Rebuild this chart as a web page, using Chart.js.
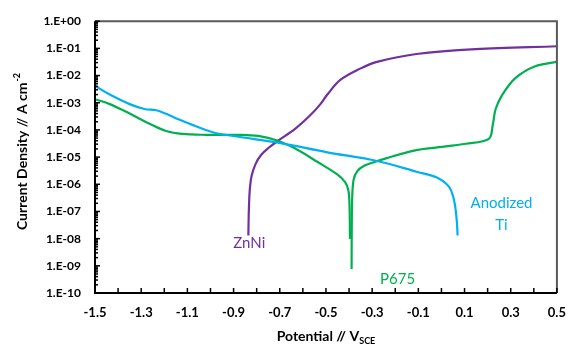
<!DOCTYPE html>
<html><head><meta charset="utf-8">
<script src="https://cdn.jsdelivr.net/npm/chart.js@4"></script>
<style>html,body{margin:0;padding:0;background:#fff}#c{display:block}</style>
</head><body>
<canvas id="c" width="578" height="349"></canvas>
<script>
// ---- data ----
const xTickLabels = ['-1.5','-1.3','-1.1','-0.9','-0.7','-0.5','-0.3','-0.1','0.1','0.3','0.5'];
const yTickLabels = ['1.E-10','1.E-09','1.E-08','1.E-07','1.E-06','1.E-05','1.E-04','1.E-03','1.E-02','1.E-01','1.E+00'];

const znniV = [-0.836,-0.834,-0.830,-0.822,-0.805,-0.781,-0.745,-0.708,-0.635,-0.566,-0.524,-0.494,-0.438,-0.352,-0.279,-0.108,0.149,0.5];
const znniI = [1.3e-8,1.0e-7,6.0e-7,2.0e-6,5.5e-6,1.2e-5,2.3e-5,4.0e-5,1.07e-4,3.6e-4,8.9e-4,2.0e-3,6.9e-3,1.8e-2,3.2e-2,6.2e-2,9.4e-2,1.2e-1];

const p675CathV = [-1.5,-1.436,-1.35,-1.264,-1.192,-1.123,-1.02,-0.879,-0.793,-0.708,-0.635,-0.536,-0.451,-0.417,-0.403,-0.398,-0.396];
const p675CathI = [1.35e-3,8.9e-4,4.0e-4,1.7e-4,9.1e-5,7.1e-5,6.6e-5,6.6e-5,6.0e-5,4.0e-5,2.1e-5,6.6e-6,2.3e-6,1.2e-6,6.0e-7,1.5e-7,9.8e-9];
const p675AnodV = [-0.389,-0.388,-0.386,-0.380,-0.365,-0.335,-0.290,-0.237,-0.108,-0.035,0.106,0.205,0.222,0.235,0.264,0.32,0.406,0.5];
const p675AnodI = [7.7e-10,5.0e-8,4.0e-7,1.5e-6,3.0e-6,4.8e-6,6.6e-6,9.2e-6,1.8e-5,2.2e-5,3.1e-5,4.7e-5,1.5e-4,6.0e-4,2.0e-3,8.1e-3,2.2e-2,3.2e-2];

const tiV = [-1.5,-1.436,-1.35,-1.286,-1.234,-1.192,-1.136,-1.063,-0.978,-0.879,-0.708,-0.494,-0.279,-0.108,-0.022,0.033,0.055,0.066,0.070];
const tiI = [4.2e-3,2.0e-3,8.9e-4,5.9e-4,5.3e-4,3.9e-4,2.4e-4,1.36e-4,7.7e-5,5.6e-5,3.4e-5,1.5e-5,7.2e-6,2.9e-6,1.8e-6,8.0e-7,2.5e-7,5.0e-8,1.3e-8];

const seriesLabels = [
  {text:'ZnNi', x:-0.832, y:10**-8.16, color:'#7030A0'},
  {text:'P675', x:-0.19, y:10**-9.5, color:'#00B050'},
  {text:'Anodized', x:0.26, y:10**-6.70, color:'#00B0F0'},
  {text:'Ti', x:0.26, y:10**-7.52, color:'#00B0F0'}
];

const pts = (xs, ys) => xs.map((v,i)=>({x:v, y:ys[i]}));

const PURPLE='#7030A0', GREEN='#00B050', BLUE='#00B0F0';
const lineDs = (data,color)=>({data, borderColor:color, borderWidth:2.2, pointRadius:0, fill:false, tension:0.35});

function seg(ctx,x1,y1,x2,y2){ctx.beginPath();ctx.moveTo(x1,y1);ctx.lineTo(x2,y2);ctx.stroke();}

const framePlugin = {
  id:'frame',
  afterDraw(chart){
    const {ctx, chartArea:a, scales:{x,y}} = chart;
    ctx.save();
    ctx.strokeStyle='#595959'; ctx.lineWidth=2;
    ctx.beginPath(); ctx.moveTo(a.left,a.top); ctx.lineTo(a.right,a.top); ctx.lineTo(a.right,a.bottom); ctx.stroke();
    ctx.strokeStyle='#000'; ctx.lineWidth=2;
    ctx.beginPath(); ctx.moveTo(a.left,a.top); ctx.lineTo(a.left,a.bottom); ctx.lineTo(a.right,a.bottom); ctx.stroke();
    ctx.lineWidth=1.5;
    for(let e=-10;e<=0;e++){
      const py=y.getPixelForValue(10**e);
      seg(ctx,a.left,py,a.left+5,py);
      if(e<0) for(let m=2;m<=9;m++){const pm=y.getPixelForValue(m*10**e); seg(ctx,a.left,pm,a.left+3,pm);}
    }
    for(let i=0;i<=20;i++){const px=x.getPixelForValue(-1.5+i*0.1); seg(ctx,px,a.bottom,px,a.bottom-5);}
    // series labels
    ctx.font='15px Lato'; ctx.textAlign='center'; ctx.textBaseline='middle';
    seriesLabels.forEach(l=>{ctx.fillStyle=l.color; ctx.fillText(l.text, x.getPixelForValue(l.x), y.getPixelForValue(l.y));});
    // axis titles
    ctx.fillStyle='#000';
    const f1='bold 14px Lato', f2='bold 9px Lato';
    ctx.font=f1; const w1=ctx.measureText('Potential // V').width;
    ctx.font=f2; const w2=ctx.measureText('SCE').width;
    const cx=(a.left+a.right)/2, tx=cx-(w1+w2)/2, ty=336;
    ctx.textAlign='left'; ctx.textBaseline='alphabetic';
    ctx.font=f1; ctx.fillText('Potential // V', tx, ty+5);
    ctx.font=f2; ctx.fillText('SCE', tx+w1, ty+8);
    ctx.translate(22,152); ctx.rotate(-Math.PI/2);
    ctx.font=f1; const w3=ctx.measureText('Current Density // A cm').width;
    ctx.font=f2; const w4=ctx.measureText('-2').width;
    const sx=-(w3+w4)/2;
    ctx.font=f1; ctx.fillText('Current Density // A cm', sx, 5);
    ctx.font=f2; ctx.fillText('-2', sx+w3+1, -2);
    ctx.restore();
  }
};

new Chart(document.getElementById('c'), {
  type:'line',
  data:{datasets:[
    lineDs(pts(tiV,tiI), BLUE),
    lineDs(pts(p675CathV,p675CathI), GREEN),
    lineDs(pts(p675AnodV,p675AnodI), GREEN),
    lineDs(pts(znniV,znniI), PURPLE)
  ]},
  options:{
    responsive:false, animation:false, devicePixelRatio:1,
    layout:{padding:{left:0,right:16,top:11,bottom:0}},
    plugins:{legend:{display:false}, tooltip:{enabled:false}},
    scales:{
      x:{type:'linear', min:-1.5, max:0.5,
        afterFit(s){s.height=56;},
        afterBuildTicks(s){s.ticks=[];for(let i=0;i<=10;i++)s.ticks.push({value:-1.5+i*0.2});},
        ticks:{autoSkip:false, maxRotation:0, padding:12, color:'#000', font:{family:'Lato',size:13,weight:'bold'},
          callback:(v,i)=>xTickLabels[i]},
        grid:{display:false, drawTicks:false}, border:{display:false}},
      y:{type:'logarithmic', min:1e-10, max:1,
        afterFit(s){s.width=95;},
        afterBuildTicks(s){s.ticks=[];for(let e=-10;e<=0;e++)s.ticks.push({value:10**e});},
        ticks:{autoSkip:false, padding:14, color:'#000', font:{family:'Lato',size:12,weight:'bold'},
          callback:(v,i)=>yTickLabels[i]},
        grid:{display:false, drawTicks:false}, border:{display:false}}
    }
  },
  plugins:[framePlugin]
});
</script>
</body></html>
